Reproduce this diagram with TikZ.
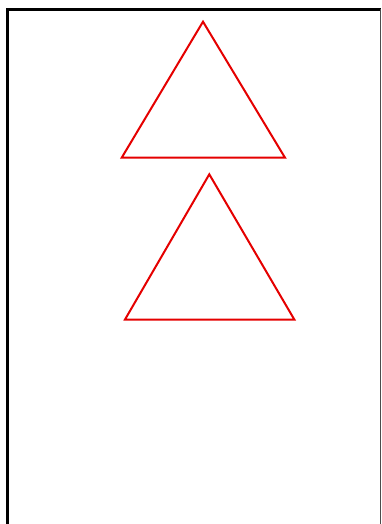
\documentclass[tikz,border=0pt]{standalone}
\begin{document}
\begin{tikzpicture}[x=1pt,y=-1pt,
  tri/.style={draw=red!90!black, line width=2pt, line join=miter}]
\useasboundingbox (0,0) rectangle (382,524);
\fill[white] (0,0) rectangle (382,524);
\draw[line width=3pt, black] (7,524) -- (7,9.5) -- (380.5,9.5);
\draw[line width=1.5pt, black!70] (380.5,9.5) -- (380.5,524);
\coordinate (a1) at (203,21.7);
\coordinate (b1) at (121.7,157.7);
\coordinate (c1) at (285,157.7);
\draw[tri] (a1) -- (b1) -- (c1) -- cycle;
\coordinate (a2) at (209.3,174.3);
\coordinate (b2) at (125,319.5);
\coordinate (c2) at (294.3,319.5);
\draw[tri] (a2) -- (b2) -- (c2) -- cycle;
\end{tikzpicture}
\end{document}
